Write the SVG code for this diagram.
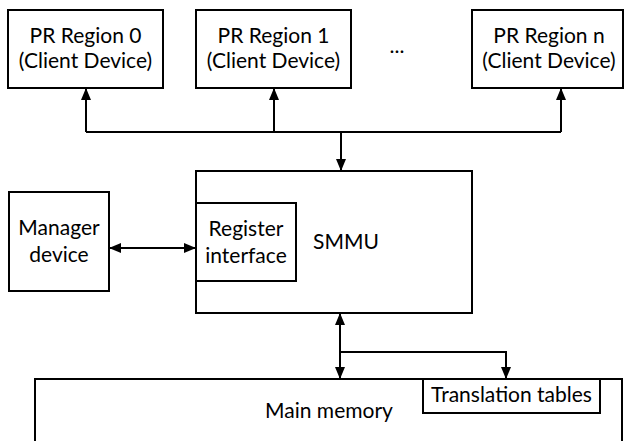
<svg xmlns="http://www.w3.org/2000/svg" width="624" height="441" viewBox="0 0 624 441">
  <defs>
    <marker id="arrow" viewBox="0 0 12 10" refX="12" refY="5" markerWidth="12" markerHeight="10" orient="auto-start-reverse" markerUnits="userSpaceOnUse">
      <path d="M0,0 L12,5 L0,10 Z" fill="#000"/>
    </marker>
    <style>
      .box { fill: #fff; stroke: #000; stroke-width: 2; }
      .lbl { font-family: Lato, "Open Sans", "Liberation Sans", sans-serif; font-size: 21px; fill: #000; text-anchor: middle; }
      .wire { fill: none; stroke: #000; stroke-width: 2; }
    </style>
  </defs>
  <rect width="624" height="441" fill="#fff"/>

  <g id="pr0">
    <rect class="box" x="8" y="10" width="155" height="78"/>
    <text class="lbl" x="85.5" y="43">PR Region 0</text>
    <text class="lbl" x="85.5" y="68">(Client Device)</text>
  </g>
  <g id="pr1">
    <rect class="box" x="196" y="10" width="155" height="78"/>
    <text class="lbl" x="273.5" y="43">PR Region 1</text>
    <text class="lbl" x="273.5" y="68">(Client Device)</text>
  </g>
  <g id="ellipsis">
    <text class="lbl" x="397" y="53">...</text>
  </g>
  <g id="prn">
    <rect class="box" x="472" y="10" width="151" height="78"/>
    <text class="lbl" x="549" y="43">PR Region n</text>
    <text class="lbl" x="549" y="68">(Client Device)</text>
  </g>

  <g id="manager">
    <rect class="box" x="9" y="192" width="100" height="99"/>
    <text class="lbl" x="59" y="235">Manager</text>
    <text class="lbl" x="59" y="262">device</text>
  </g>

  <g id="smmu">
    <rect class="box" x="196" y="171" width="276" height="142"/>
    <text class="lbl" x="346" y="249">SMMU</text>
  </g>
  <g id="register">
    <rect class="box" x="196" y="203" width="100" height="78"/>
    <text class="lbl" x="246" y="236">Register</text>
    <text class="lbl" x="246" y="263">interface</text>
  </g>

  <g id="memory">
    <rect class="box" x="35" y="379" width="587" height="80"/>
    <text class="lbl" x="329" y="418">Main memory</text>
  </g>
  <g id="tables">
    <rect class="box" x="423" y="379" width="177" height="34"/>
    <text class="lbl" x="511.5" y="402">Translation tables</text>
  </g>

  <g id="connectors">
    <!-- client bus -->
    <path class="wire" d="M86,132 H561"/>
    <path class="wire" d="M86,132 V88" marker-end="url(#arrow)"/>
    <path class="wire" d="M274,132 V88" marker-end="url(#arrow)"/>
    <path class="wire" d="M561,132 V88" marker-end="url(#arrow)"/>
    <path class="wire" d="M341,132 V171" marker-end="url(#arrow)"/>
    <!-- manager to register interface -->
    <path class="wire" d="M109,248 H196" marker-start="url(#arrow)" marker-end="url(#arrow)"/>
    <!-- SMMU to memory -->
    <path class="wire" d="M340,313 V379" marker-start="url(#arrow)" marker-end="url(#arrow)"/>
    <path class="wire" d="M340,352 H506 V379" marker-end="url(#arrow)"/>
  </g>
</svg>
